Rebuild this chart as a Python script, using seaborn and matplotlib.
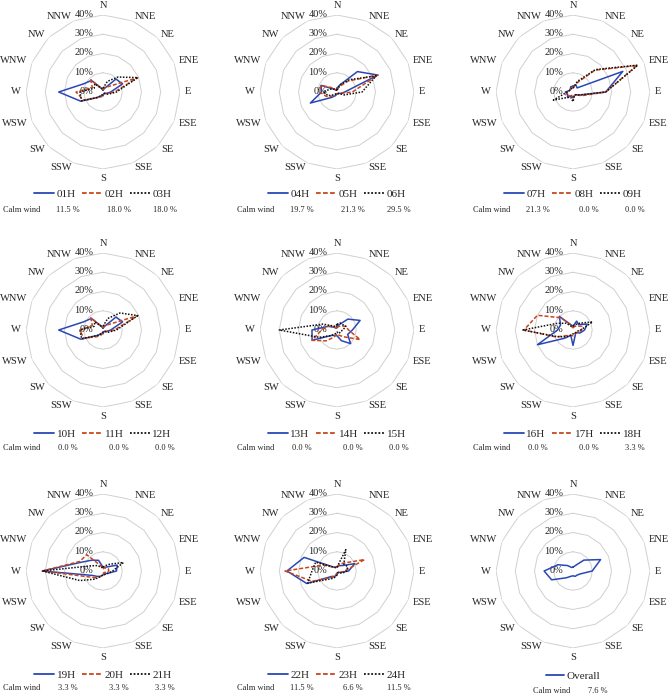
import numpy as np
import pandas as pd
import matplotlib
matplotlib.use('Agg')
import matplotlib.pyplot as plt
from matplotlib.lines import Line2D
import seaborn as sns

sns.set_style('white')
plt.rcParams['font.family'] = ['Liberation Serif', 'DejaVu Serif']

# ── data: wind direction frequency (%) per hour ─────────────
DIRS = ['N', 'NNE', 'NE', 'ENE', 'E', 'ESE', 'SE', 'SSE',
        'S', 'SSW', 'SW', 'WSW', 'W', 'WNW', 'NW', 'NNW']
RINGS = [0, 10, 20, 30, 40]

h01 = [1, 2, 9.5, 11, 4, 2, 1, 1, 2, 2, 4, 12.5, 23, 11, 8.5, 2]
h02 = [1, 3, 4, 19.5, 6, 2, 1, 1, 1, 3, 4, 11, 14, 6, 9, 2]
h03 = [2, 6, 11, 19.5, 7, 3, 1, 1, 1, 2, 4, 12, 12, 5, 6, 2]
h04 = [2, 4, 15, 23, 4, 2, 1, 1, 1, 2, 4, 15, 8, 9, 2, 1]
h05 = [1, 3, 8, 23, 8, 2, 1, 1, 1, 1, 3, 6, 9, 9, 3, 1]
h06 = [1, 4, 9, 22, 13, 4, 1, 1, 1, 1, 2, 5, 7, 4, 2, 1]
h07 = [3, 4, 3, 28, 17, 4, 2, 2, 3, 2, 4, 3, 4, 2, 2, 3]
h08 = [2, 5, 16, 36, 17, 5, 2, 2, 3, 2, 3, 4, 3, 2, 2, 2]
h09 = [2, 6, 16.5, 36.5, 17, 4, 2, 2, 5, 3, 4, 11, 3, 2, 2, 2]
h10 = [1, 2, 9.5, 11, 4, 2, 1, 1, 2, 2, 4, 12.5, 23, 11, 8.5, 2]
h11 = [1, 3, 4, 19.5, 6, 2, 1, 1, 1, 3, 5, 11, 12, 6, 9, 2]
h12 = [2, 6.5, 12.5, 19.5, 7, 3, 1, 1, 1, 2, 4, 12, 12, 5, 6, 2]
h13 = [2, 3, 8, 13, 8, 6, 10, 6, 3, 3, 4, 14, 13, 5, 2, 1]
h14 = [1, 2, 3, 5, 6, 13, 5, 3, 2, 4, 8, 14, 8, 5, 3, 1]
h15 = [3, 4, 4, 5, 3, 2, 2, 2, 1, 2, 4, 10, 30, 8, 3, 2]
h16 = [2, 5, 4, 8, 6, 4, 2, 3, 8, 3, 6, 20, 8, 7, 10, 3]
h17 = [1, 2, 3, 5, 4.5, 3, 2, 2, 3, 3, 4, 9.5, 25.5, 20, 9, 3]
h18 = [2, 3, 5, 11, 4, 2, 2, 2, 2, 3, 5, 9, 26, 9, 5, 2]
h19 = [2, 2, 3, 8, 7, 3, 2, 2, 2, 3, 4, 6, 31.5, 12, 8, 6]
h20 = [1, 2, 2, 3, 3, 2, 1, 1, 2, 3, 5, 8, 31.5, 13, 12, 3]
h21 = [2, 3, 5, 11.5, 5, 3, 2, 2, 2, 3, 6, 13, 31.5, 7, 4, 2]
h22 = [2, 3, 4, 10, 6, 2, 1, 1, 2, 3, 4, 17, 26, 18.5, 3, 2]
h23 = [2, 4, 6, 15.5, 4, 2, 1, 1, 1, 3, 5, 14, 27, 8, 3, 2]
h24 = [2, 12, 5, 6, 5, 3, 1, 1, 2, 4, 6, 16.5, 13, 12, 3, 2]
overall = [2, 3, 8, 15.5, 10, 4, 3, 3, 2.5, 3, 5, 12, 15, 8.5, 4, 2]

PANELS = [
    (['01H', '02H', '03H'], [h01, h02, h03], ['11.5 %', '18.0 %', '18.0 %']),
    (['04H', '05H', '06H'], [h04, h05, h06], ['19.7 %', '21.3 %', '29.5 %']),
    (['07H', '08H', '09H'], [h07, h08, h09], ['21.3 %', '0.0 %', '0.0 %']),
    (['10H', '11H', '12H'], [h10, h11, h12], ['0.0 %', '0.0 %', '0.0 %']),
    (['13H', '14H', '15H'], [h13, h14, h15], ['0.0 %', '0.0 %', '0.0 %']),
    (['16H', '17H', '18H'], [h16, h17, h18], ['0.0 %', '0.0 %', '3.3 %']),
    (['19H', '20H', '21H'], [h19, h20, h21], ['3.3 %', '3.3 %', '3.3 %']),
    (['22H', '23H', '24H'], [h22, h23, h24], ['11.5 %', '6.6 %', '11.5 %']),
    (['Overall'], [overall], ['7.6 %']),
]

# ── styles / layout (pixels) ────────────────────────────────
COLORS = ['#2a48b5', '#c8461c', '#111111']
DASHES = ['', (2.6, 1.3), (1, 1)]
W, H = 669, 695
CX = [103, 337, 573]
CY = [92, 330, 571]
R = 77
LEG_Y = [194, 434, 675]
CALM_Y = [210, 448, 688]

fig = plt.figure(figsize=(W / 100, H / 100), dpi=100)
theta = np.linspace(0, 2 * np.pi, len(DIRS), endpoint=False)
theta_closed = np.append(theta, 2 * np.pi)

def fx(x): return x / W
def fy(y): return 1 - y / H

for i, (names, series, calm) in enumerate(PANELS):
    r, c = divmod(i, 3)
    cx, cy = CX[c], CY[r]
    ax = fig.add_axes([fx(cx - R), fy(cy + R), 2 * R / W, 2 * R / H],
                      projection='polar')
    ax.set_theta_zero_location('N')
    ax.set_theta_direction(-1)

    # polygon grid like Excel radar
    for ring in RINGS[1:]:
        ax.plot(theta_closed, [ring] * len(theta_closed), color='#d0d0d0',
                lw=0.7, zorder=1)

    rows = []
    for name, vals in zip(names, series):
        for t, v in zip(theta_closed, list(vals) + [vals[0]]):
            rows.append({'theta': t, 'pct': v, 'hour': name})
    df = pd.DataFrame(rows)
    pal = {n: COLORS[k] for k, n in enumerate(names)}
    dsh = {n: DASHES[k] for k, n in enumerate(names)}
    sns.lineplot(data=df, x='theta', y='pct', hue='hour', style='hour',
                 palette=pal, dashes=dsh, sort=False, estimator=None,
                 lw=1.1, legend=False, ax=ax, zorder=3)

    ax.set_ylim(0, 40)
    ax.set_xticks([]); ax.set_yticks([])
    ax.set_xlabel(''); ax.set_ylabel('')
    ax.grid(False)
    ax.spines['polar'].set_visible(False)
    ax.patch.set_alpha(0)

    for t, d in zip(theta, DIRS):
        s, co = np.sin(t), np.cos(t)
        ha = 'left' if s > 0.1 else ('right' if s < -0.1 else 'center')
        va = 'bottom' if co > 0.95 else ('top' if co < -0.95 else 'center')
        ax.text(t, 42.5, d, ha=ha, va=va, fontsize=7.6)
    for ring in RINGS:
        ax.annotate(f'{ring}%', xy=(0, ring), xytext=(-7, 0.5),
                    textcoords='offset points', ha='right', va='center',
                    fontsize=7.5, zorder=2)

    handles = [Line2D([], [], color=COLORS[k], lw=1.3,
                      linestyle='-' if DASHES[k] == '' else (0, DASHES[k]))
               for k in range(len(names))]
    if len(names) == 3:
        ax.legend(handles, names, loc='center', ncol=3, frameon=False,
                  bbox_to_anchor=(fx(cx), fy(LEG_Y[r])),
                  bbox_transform=fig.transFigure, fontsize=8,
                  handlelength=1.8, handletextpad=0.2, columnspacing=0.6)
        fig.text(fx(cx - 100), fy(CALM_Y[r]), 'Calm wind', fontsize=6,
                 ha='left', va='center')
        for off, txt in zip([-35, 16, 62], calm):
            fig.text(fx(cx + off), fy(CALM_Y[r]), txt, fontsize=6,
                     ha='center', va='center')
    else:
        ax.legend(handles, names, loc='center', frameon=False,
                  bbox_to_anchor=(fx(cx), fy(676)),
                  bbox_transform=fig.transFigure, fontsize=8,
                  handlelength=1.6, handletextpad=0.2)
        fig.text(fx(cx - 40), fy(691), 'Calm wind', fontsize=6,
                 ha='left', va='center')
        fig.text(fx(cx + 25), fy(691), calm[0], fontsize=6,
                 ha='center', va='center')

fig.savefig('out.png', dpi=100, facecolor='white')
